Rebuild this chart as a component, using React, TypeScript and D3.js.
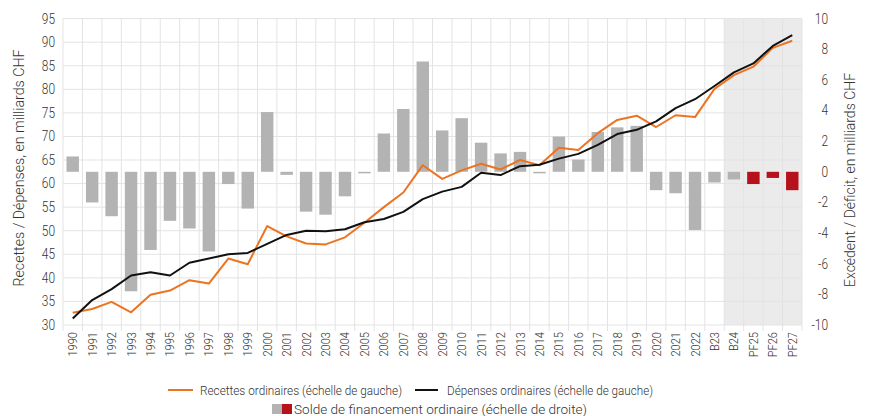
import { useRef, useEffect } from "react";
import * as d3 from "d3";

const YEARS = [
  "1990", "1991", "1992", "1993", "1994", "1995", "1996", "1997", "1998", "1999",
  "2000", "2001", "2002", "2003", "2004", "2005", "2006", "2007", "2008", "2009",
  "2010", "2011", "2012", "2013", "2014", "2015", "2016", "2017", "2018", "2019",
  "2020", "2021", "2022", "B23", "B24", "PF25", "PF26", "PF27",
];

// Recettes ordinaires, milliards CHF (left scale)
const RECETTES = [
  32.6, 33.4, 34.9, 32.7, 36.4, 37.3, 39.5, 38.8, 44.1, 42.9,
  51.0, 48.8, 47.3, 47.1, 48.6, 51.7, 55.0, 58.1, 63.9, 61.0,
  62.8, 64.2, 63.0, 65.0, 63.9, 67.6, 67.1, 70.7, 73.5, 74.4,
  72.0, 74.5, 74.1, 80.1, 83.0, 84.8, 88.8, 90.3,
];

// Dépenses ordinaires, milliards CHF (left scale)
const DEPENSES = [
  31.4, 35.3, 37.6, 40.5, 41.2, 40.5, 43.2, 44.1, 45.0, 45.3,
  47.2, 49.1, 50.0, 49.9, 50.3, 51.8, 52.5, 54.0, 56.7, 58.3,
  59.3, 62.3, 61.8, 63.7, 64.0, 65.3, 66.3, 68.2, 70.5, 71.4,
  73.2, 76.0, 77.9, 80.7, 83.6, 85.5, 89.2, 91.5,
];

// Solde de financement ordinaire, milliards CHF (right scale)
const SOLDE = [
  1.0, -2.0, -2.9, -7.8, -5.1, -3.2, -3.7, -5.2, -0.8, -2.4,
  3.9, -0.2, -2.6, -2.8, -1.6, -0.1, 2.5, 4.1, 7.2, 2.7,
  3.5, 1.9, 1.2, 1.3, -0.1, 2.3, 0.8, 2.6, 2.9, 3.0,
  -1.2, -1.4, -3.8, -0.7, -0.5, -0.8, -0.4, -1.2,
];

const FORECAST = ["PF25", "PF26", "PF27"];
const SHADED_FROM = "B24";

const LEFT_TICKS = d3.range(30, 96, 5);
const RIGHT_TICKS = d3.range(-10, 11, 2);

const ORANGE = "#ec7420";
const BLACK = "#111111";
const GREY_BAR = "#b3b3b3";
const RED_BAR = "#b5121b";
const FONT = "Roboto, sans-serif";
const TEXT = "#333333";

export default function App() {
  const svgRef = useRef<SVGSVGElement | null>(null);

  useEffect(() => {
    document.body.style.margin = "0";
    const svg = d3.select(svgRef.current);
    svg.selectAll("*").remove();

    const left = 63, right = 802, top = 18.6, bottom = 325;

    const x = d3.scaleBand().domain(YEARS).range([left, right]).paddingInner(0.36).paddingOuter(0.18);
    const yL = d3.scaleLinear().domain([30, 95]).range([bottom, top]);
    const yR = d3.scaleLinear().domain([-10, 10]).range([bottom, top]);
    const step = x.step();
    const gap = (step - x.bandwidth()) / 2;
    const cx = (d: string) => (x(d) as number) + x.bandwidth() / 2;

    // shaded forecast zone
    const sx = (x(SHADED_FROM) as number) - gap;
    svg.append("rect")
      .attr("x", sx).attr("y", top)
      .attr("width", right - sx).attr("height", bottom - top)
      .attr("fill", "#ebebeb");

    // grid
    const grid = svg.append("g").attr("stroke", "#e3e3e3").attr("stroke-width", 1);
    LEFT_TICKS.forEach((t) => {
      grid.append("line").attr("x1", left).attr("x2", right)
        .attr("y1", yL(t)).attr("y2", yL(t));
    });
    const bounds = YEARS.map((d) => (x(d) as number) - gap).concat([right]);
    bounds.forEach((b) => {
      grid.append("line").attr("x1", b).attr("x2", b).attr("y1", top).attr("y2", bottom + 6);
    });

    // bars
    svg.append("g").selectAll("rect").data(YEARS).join("rect")
      .attr("x", (d) => x(d) as number)
      .attr("width", x.bandwidth())
      .attr("y", (_, i) => Math.min(yR(SOLDE[i]), yR(0)))
      .attr("height", (_, i) => Math.abs(yR(SOLDE[i]) - yR(0)))
      .attr("fill", (d) => (FORECAST.includes(d) ? RED_BAR : GREY_BAR));

    // lines
    const line = d3.line<number>()
      .x((_, i) => cx(YEARS[i]))
      .y((v) => yL(v));
    svg.append("path").attr("d", line(RECETTES)).attr("fill", "none")
      .attr("stroke", ORANGE).attr("stroke-width", 2).attr("stroke-linejoin", "round");
    svg.append("path").attr("d", line(DEPENSES)).attr("fill", "none")
      .attr("stroke", BLACK).attr("stroke-width", 2).attr("stroke-linejoin", "round");

    // left / right ticks
    const tl = svg.append("g").attr("font-family", FONT).attr("font-weight", 300)
      .attr("font-size", 14).attr("fill", TEXT);
    LEFT_TICKS.forEach((t) => {
      tl.append("text").attr("x", 55).attr("y", yL(t)).attr("dy", "0.35em")
        .attr("text-anchor", "end").text(t);
    });
    RIGHT_TICKS.forEach((t) => {
      tl.append("text").attr("x", 828).attr("y", yR(t)).attr("dy", "0.35em")
        .attr("text-anchor", "end").text(t);
    });

    // x labels
    YEARS.forEach((d) => {
      tl.append("text")
        .attr("transform", `translate(${cx(d) + 4.5},${bottom + 7}) rotate(-90)`)
        .attr("text-anchor", "end").attr("font-size", 13).text(d);
    });

    // axis titles
    tl.append("text").attr("transform", `translate(24,168) rotate(-90)`)
      .attr("text-anchor", "middle").attr("font-size", 14)
      .attr("textLength", 237).attr("lengthAdjust", "spacingAndGlyphs")
      .text("Recettes / Dépenses, en milliards CHF");
    tl.append("text").attr("transform", `translate(855,180) rotate(-90)`)
      .attr("text-anchor", "middle").attr("font-size", 14)
      .attr("textLength", 214).attr("lengthAdjust", "spacingAndGlyphs")
      .text("Excédent / Déficit, en milliards CHF");

    // condense the tick texts (narrow DIN-like face in the original)
    tl.selectAll<SVGTextElement, unknown>("text").each(function () {
      if (this.getAttribute("textLength")) return;
      const len = this.getComputedTextLength();
      d3.select(this).attr("textLength", len * 0.85).attr("lengthAdjust", "spacingAndGlyphs");
    });

    // legend
    const lg = svg.append("g").attr("font-family", FONT).attr("font-weight", 300)
      .attr("font-size", 13.5).attr("fill", TEXT);
    lg.append("line").attr("x1", 168).attr("x2", 193).attr("y1", 390).attr("y2", 390)
      .attr("stroke", ORANGE).attr("stroke-width", 2);
    lg.append("text").attr("x", 200).attr("y", 390).attr("dy", "0.35em")
      .attr("textLength", 202).attr("lengthAdjust", "spacingAndGlyphs")
      .text("Recettes ordinaires (échelle de gauche)");
    lg.append("line").attr("x1", 415).attr("x2", 438).attr("y1", 390).attr("y2", 390)
      .attr("stroke", BLACK).attr("stroke-width", 2);
    lg.append("text").attr("x", 447).attr("y", 390).attr("dy", "0.35em")
      .attr("textLength", 206).attr("lengthAdjust", "spacingAndGlyphs")
      .text("Dépenses ordinaires (échelle de gauche)");
    lg.append("rect").attr("x", 272).attr("y", 404).attr("width", 10).attr("height", 10).attr("fill", GREY_BAR);
    lg.append("rect").attr("x", 282).attr("y", 404).attr("width", 10).attr("height", 10).attr("fill", RED_BAR);
    lg.append("text").attr("x", 294).attr("y", 409).attr("dy", "0.35em")
      .attr("textLength", 293).attr("lengthAdjust", "spacingAndGlyphs")
      .text("Solde de financement ordinaire (échelle de droite)");
  }, []);

  return <svg ref={svgRef} width={871} height={416} style={{ display: "block", background: "#fff" }} />;
}
